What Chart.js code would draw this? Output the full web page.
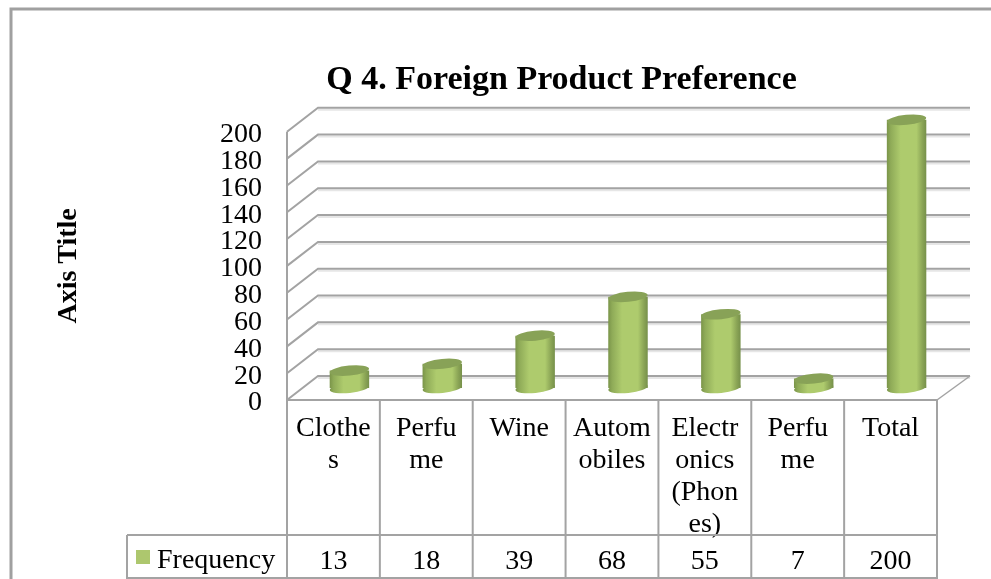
<!DOCTYPE html>
<html>
<head>
<meta charset="utf-8">
<style>html,body{margin:0;padding:0;background:#fff}canvas{display:block}</style>
<script src="https://cdn.jsdelivr.net/npm/chart.js@4"></script>
</head>
<body>
<canvas id="c" width="991" height="579"></canvas>
<script>
const categories = [["Clothe","s"],["Perfu","me"],["Wine"],["Autom","obiles"],["Electr","onics","(Phon","es)"],["Perfu","me"],["Total"]];
const frequency = [13,18,39,68,55,7,200];
const seriesName = "Frequency";
const chartTitle = "Q 4. Foreign Product Preference";
const yAxisTitle = "Axis Title";

const FONT = '"Liberation Serif", serif';
const GRID = '#a3a3a3', DEPTH = {x:31, y:-24}, BAR_SHIFT = {x:16, y:-12};

function bandGradient(ctx, left, right){
  const g = ctx.createLinearGradient(left,0,right,0);
  g.addColorStop(0,'#7a9449');
  g.addColorStop(0.1,'#8fab58');
  g.addColorStop(0.35,'#aecb6d');
  g.addColorStop(0.75,'#aecb6d');
  g.addColorStop(0.9,'#8ba556');
  g.addColorStop(1,'#76904a');
  return g;
}
const cylinder3d = {
  id:'cylinder3d',
  afterLayout(chart){
    chart.titleBlock.left += 67; chart.titleBlock.right += 67;
  },
  beforeDraw(chart){
    const {ctx, chartArea:a, scales:{x,y}} = chart;
    ctx.save();
    ctx.fillStyle='#fff'; ctx.fillRect(0,0,chart.width,chart.height);
    // outer frame
    ctx.strokeStyle='#a0a0a0'; ctx.lineWidth=3;
    ctx.beginPath(); ctx.moveTo(11,579); ctx.lineTo(11,9); ctx.lineTo(991,9); ctx.stroke();
    // shadow + wall lines
    const ticks = y.ticks.map(t=>y.getPixelForValue(t.value));
    ticks.forEach(py=>{
      ctx.strokeStyle='#e6e6e6'; ctx.lineWidth=2;
      ctx.beginPath(); ctx.moveTo(a.left+DEPTH.x,py+DEPTH.y+2); ctx.lineTo(a.right+DEPTH.x+2,py+DEPTH.y+2); ctx.stroke();
    });
    ticks.forEach(py=>{
      ctx.strokeStyle=GRID; ctx.lineWidth=2;
      ctx.beginPath(); ctx.moveTo(a.left,py); ctx.lineTo(a.left+DEPTH.x,py+DEPTH.y); ctx.lineTo(a.right+DEPTH.x+2,py+DEPTH.y); ctx.stroke();
    });
    ctx.strokeStyle=GRID; ctx.lineWidth=1.4;
    ctx.beginPath(); ctx.moveTo(a.right,a.bottom); ctx.lineTo(a.right+DEPTH.x+2,a.bottom+DEPTH.y); ctx.stroke();
    // left wall edge
    ctx.lineWidth=2;
    ctx.beginPath(); ctx.moveTo(a.left,a.top); ctx.lineTo(a.left,a.bottom); ctx.stroke();
    ctx.restore();
  },
  beforeDatasetsDraw(chart){
    chart.ctx.save();
    chart.ctx.translate(BAR_SHIFT.x,BAR_SHIFT.y);
  },
  afterDatasetsDraw(chart){
    const ctx = chart.ctx;
    chart.getDatasetMeta(0).data.forEach(bar=>{
      const {x,y,base,width} = bar.getProps(['x','y','base','width'],true);
      const r = width/2;
      ctx.fillStyle = bandGradient(ctx,x-r,x+r);
      ctx.beginPath(); ctx.ellipse(x,base,r,5,-0.1,0,Math.PI*2); ctx.fill();
      ctx.fillStyle = '#88a257';
      ctx.beginPath(); ctx.ellipse(x,y,r,5,-0.1,0,Math.PI*2); ctx.fill();
    });
    ctx.restore();
  },
  afterDraw(chart){
    const {ctx, chartArea:a, scales:{x}} = chart;
    const rowTop = 535, bottom = 578, tableLeft = 127;
    ctx.save();
    ctx.strokeStyle=GRID; ctx.lineWidth=2;
    ctx.beginPath();
    ctx.moveTo(a.left,a.bottom); ctx.lineTo(a.right,a.bottom);
    ctx.moveTo(tableLeft,rowTop); ctx.lineTo(a.right,rowTop);
    ctx.moveTo(tableLeft,bottom); ctx.lineTo(a.right,bottom);
    ctx.moveTo(tableLeft,rowTop); ctx.lineTo(tableLeft,579);
    const band = (a.right-a.left)/frequency.length;
    for(let i=0;i<=frequency.length;i++){
      const px = a.left+band*i;
      ctx.moveTo(px,a.bottom); ctx.lineTo(px,579);
    }
    ctx.stroke();
    ctx.fillStyle='#000'; ctx.font='28px '+FONT; ctx.textBaseline='middle'; ctx.textAlign='center';
    frequency.forEach((v,i)=>ctx.fillText(String(v),x.getPixelForValue(i),562));
    ctx.textAlign='left';
    ctx.fillText(seriesName,157,561);
    ctx.fillStyle='#adc76e'; ctx.fillRect(136,550,14,14);
    ctx.restore();
  }
};

new Chart(document.getElementById('c'),{
  type:'bar',
  data:{labels:categories,datasets:[{
    label:seriesName,
    data:frequency,
    clip:false,
    barPercentage:0.425,
    categoryPercentage:1,
    backgroundColor(c){
      const s=c.chart.scales.x;
      if(!s||c.dataIndex===undefined) return '#adc76e';
      const px=s.getPixelForValue(c.dataIndex), band=(s.right-s.left)/frequency.length, r=band*0.2125;
      if(!Number.isFinite(px)||!Number.isFinite(r)) return '#adc76e';
      return bandGradient(c.chart.ctx,px-r,px+r);
    }
  }]},
  options:{
    responsive:false,animation:false,
    layout:{padding:{left:52,right:54,top:0,bottom:0}},
    plugins:{
      legend:{display:false},tooltip:{enabled:false},
      title:{display:true,text:chartTitle,color:'#000',font:{family:FONT,size:34,weight:'bold'},padding:{top:60,bottom:31}}
    },
    scales:{
      x:{
        grid:{display:false},border:{display:false},
        afterFit(s){s.height=179;},
        ticks:{color:'#000',font:{family:FONT,size:28,lineHeight:1.14},padding:5,maxRotation:0,minRotation:0,autoSkip:false,align:'center'}
      },
      y:{
        min:0,max:200,
        grid:{display:false},border:{display:false},
        afterFit(s){s.width=235;},
        ticks:{stepSize:20,autoSkip:false,color:'#000',font:{family:FONT,size:28},padding:17,labelOffset:3},
        title:{display:true,text:yAxisTitle,color:'#000',font:{family:FONT,size:28,weight:'bold'},padding:0}
      }
    }
  },
  plugins:[cylinder3d]
});
</script>
</body>
</html>
